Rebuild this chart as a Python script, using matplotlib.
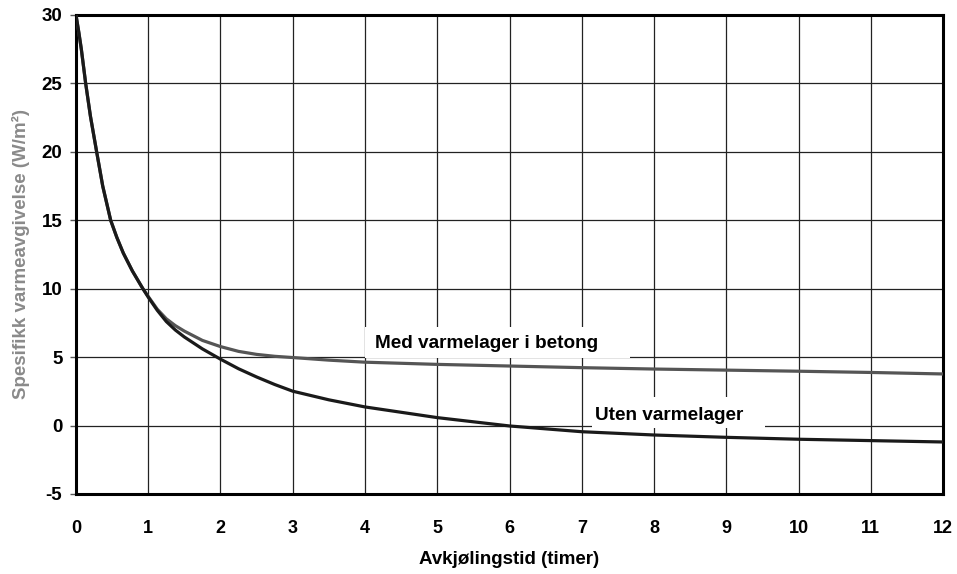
import matplotlib
matplotlib.use("Agg")
import matplotlib.pyplot as plt
from matplotlib.patches import Rectangle

# Data
t_med = [0, 0.04, 0.074, 0.134, 0.20, 0.286, 0.37, 0.48, 0.565, 0.655, 0.78, 0.92, 1.0,
         1.125, 1.25, 1.375, 1.5, 1.75, 2.0, 2.25, 2.5, 2.75, 3.0, 3.5, 4, 5, 6, 7, 8, 9,
         10, 11, 12]
y_med = [30, 28.7, 27.5, 25, 22.6, 20, 17.5, 15, 13.75, 12.6, 11.3, 10.05, 9.43,
         8.5, 7.8, 7.3, 6.9, 6.22, 5.77, 5.42, 5.2, 5.06, 4.97, 4.78, 4.63, 4.47, 4.35,
         4.23, 4.13, 4.05, 3.97, 3.88, 3.77]

t_uten = [0, 0.04, 0.074, 0.134, 0.20, 0.286, 0.37, 0.48, 0.565, 0.655, 0.78, 0.92, 1.0,
          1.125, 1.25, 1.375, 1.5, 1.75, 2.0, 2.25, 2.5, 2.75, 3.0, 3.5, 4, 5, 6, 7, 8, 9,
          10, 11, 12]
y_uten = [30, 28.7, 27.5, 25, 22.6, 20, 17.5, 15, 13.75, 12.6, 11.3, 10.05, 9.38,
          8.42, 7.6, 6.98, 6.47, 5.6, 4.85, 4.15, 3.55, 3.0, 2.51, 1.88, 1.36, 0.58, -0.03,
          -0.45, -0.69, -0.86, -1.0, -1.1, -1.2]

x_ticks = list(range(0, 13))
y_ticks = [-5, 0, 5, 10, 15, 20, 25, 30]

label_med = "Med varmelager i betong"
label_uten = "Uten varmelager"
x_title = "Avkjølingstid (timer)"
y_title = "Spesifikk varmeavgivelse (W/m²)"

plt.rcParams['font.family'] = ['Liberation Sans', 'DejaVu Sans']

fig = plt.figure(figsize=(9.57, 5.74), dpi=100)
ax = fig.add_axes([0.0794, 0.1394, 0.9060, 0.8345])

ax.set_xlim(0, 12)
ax.set_ylim(-5, 30)
ax.set_xticks(x_ticks)
ax.set_yticks(y_ticks)
ax.set_xticklabels([str(v) for v in x_ticks], fontsize=13, fontweight='bold')
ax.set_yticklabels([str(v) for v in y_ticks], fontsize=13.5, fontweight='bold')
ax.tick_params(axis='x', length=0, pad=19)
ax.tick_params(axis='y', length=4.3, width=1, color='#555555', pad=5.5)

ax.grid(True, color='#222222', linewidth=0.9, zorder=1)
ax.set_axisbelow(True)
for s in ax.spines.values():
    s.set_linewidth(2.2)
    s.set_color('black')

# white label boxes
ax.add_patch(Rectangle((4.0, 4.92), 3.67, 2.28, facecolor='white', edgecolor='none', zorder=2))
ax.add_patch(Rectangle((7.14, -0.18), 2.40, 2.27, facecolor='white', edgecolor='none', zorder=2))

ax.plot(t_med, y_med, color='#555555', linewidth=2.3, zorder=3, solid_capstyle='butt',
        solid_joinstyle='round')
ax.plot(t_uten, y_uten, color='#1a1a1a', linewidth=2.3, zorder=4, solid_capstyle='butt',
        solid_joinstyle='round')

ax.text(4.14, 6.03, label_med, fontsize=13.7, fontweight='bold', va='center', ha='left', zorder=5)
ax.text(7.18, 0.77, label_uten, fontsize=13.7, fontweight='bold', va='center', ha='left', zorder=5)

ax.set_xlabel(x_title, fontsize=13.5, fontweight='bold')
ax.xaxis.set_label_coords(0.5, -0.119)
fig.text(0.022, 0.5575, y_title, rotation=90, fontsize=13.5, fontweight='bold',
         color='#8a8a8a', ha='center', va='center')

fig.savefig("out.png", dpi=100)
